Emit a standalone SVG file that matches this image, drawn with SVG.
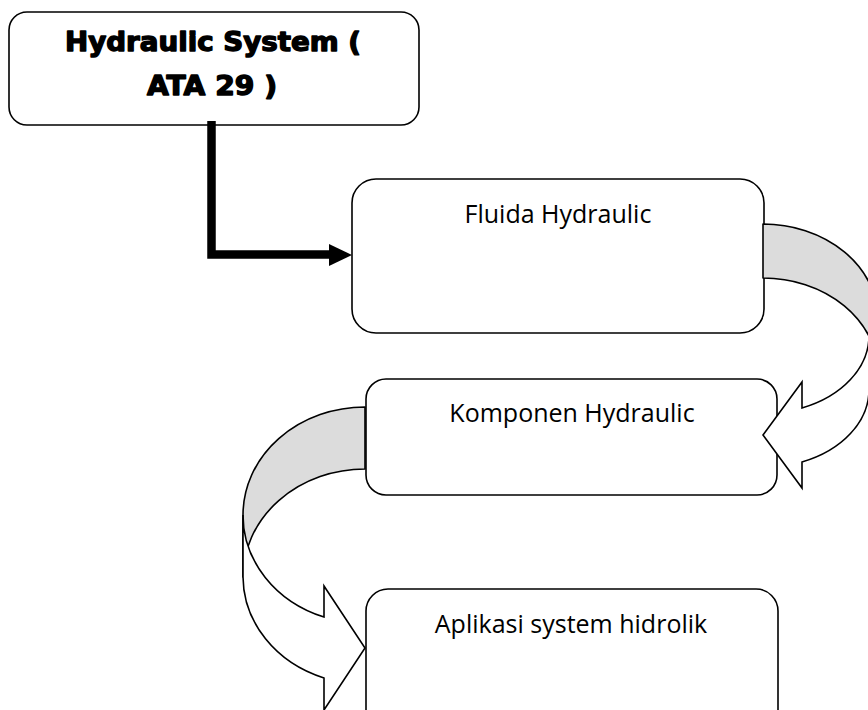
<svg xmlns="http://www.w3.org/2000/svg" width="868" height="710" viewBox="0 0 868 710">
<style>
.box{fill:#fff;stroke:#000;stroke-width:1.6}
.lbl{font-family:"Open Sans","Noto Sans",sans-serif;font-size:25px;fill:#000;text-anchor:middle}
.ttl{font-family:"DejaVu Sans","Liberation Sans",sans-serif;font-weight:bold;font-size:27px;fill:#000;stroke:#000;stroke-width:1.4;stroke-linejoin:round;text-anchor:middle}
.back{fill:#dcdcdc;stroke:#000;stroke-width:1.6;stroke-linejoin:round}
.front{fill:#fff;stroke:#000;stroke-width:1.6;stroke-linejoin:miter}
</style>
<rect width="868" height="710" fill="#fff"/>
<g id="node-hydraulic-system">
<rect class="box" x="9" y="12" width="410" height="113" rx="18"/>
<text class="ttl" x="213" y="51" textLength="296" lengthAdjust="spacingAndGlyphs">Hydraulic System (</text>
<text class="ttl" x="212" y="95" textLength="130" lengthAdjust="spacingAndGlyphs">ATA 29 )</text>
</g>
<g id="node-fluida">
<rect class="box" x="352" y="179" width="412" height="154" rx="24"/>
<text class="lbl" x="558" y="223">Fluida Hydraulic</text>
</g>
<g id="node-komponen">
<rect class="box" x="366" y="379" width="411" height="116" rx="20"/>
<text class="lbl" x="572" y="422">Komponen Hydraulic</text>
</g>
<g id="node-aplikasi">
<rect class="box" x="366" y="589" width="412" height="150" rx="22"/>
<text class="lbl" x="571" y="633">Aplikasi system hidrolik</text>
</g>
<g id="connectors">
<path d="M211.5,121 V254.5 H331" fill="none" stroke="#000" stroke-width="8.5" stroke-linejoin="miter"/>
<polygon points="329,244 352,255 329,266" fill="#000"/>
<path class="back" d="M763,224 A115,95 0 0 1 878,319 L878,373 A115,95 0 0 0 763,278 Z"/>
<path class="front" d="M869,336 A106,78 0 0 1 802,408 L802,382 L763,435 L802,488 L802,462 A106,78 0 0 0 869,390 Z"/>
<path class="back" d="M365,407 A122,108 0 0 0 243,515 L243,577 A122,108 0 0 1 365,469 Z"/>
<path class="front" d="M243,515 A122,108 0 0 0 324,617 L324,586 L365,648 L324,710 L324,678 A122,108 0 0 1 243,577 Z"/>
</g>
</svg>
